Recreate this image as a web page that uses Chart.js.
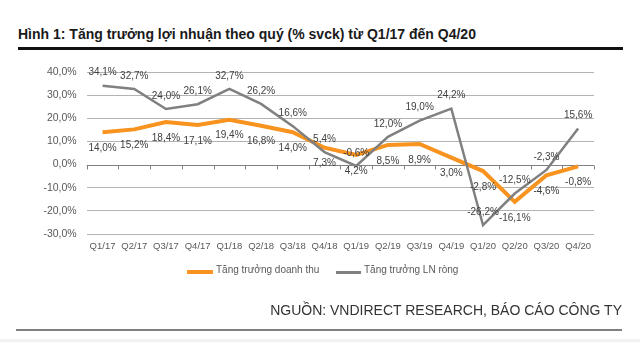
<!DOCTYPE html>
<html>
<head>
<meta charset="utf-8">
<script src="https://cdn.jsdelivr.net/npm/chart.js@4.4.1/dist/chart.umd.min.js"></script>
<style>
  html, body { margin: 0; padding: 0; background: #fff; }
  body { width: 640px; height: 342px; position: relative; overflow: hidden; font-family: "Liberation Sans", Arial, sans-serif; }
  #title { position: absolute; left: 18px; top: 26px; font-size: 14px; font-weight: bold; color: #1a1a1a; white-space: nowrap; }
  #titleRule { position: absolute; left: 18px; top: 47px; width: 605px; height: 3px; background: #111; }
  #chartWrap { position: absolute; left: 0; top: 0; width: 640px; height: 342px; }
  .leg { position: absolute; top: 264px; font-size: 10px; color: #595959; white-space: nowrap; }
  .leg i { position: absolute; top: 6px; display: block; }
  #source { position: absolute; right: 18px; top: 302px; font-size: 14px; color: #333; white-space: nowrap; }
  #srcRule { position: absolute; left: 16px; top: 329px; width: 606px; height: 2px; background: #7f7f7f; }
  #band { position: absolute; left: 0; top: 339px; width: 640px; height: 3px; background: #f2f2f2; }
</style>
</head>
<body>
<div id="title">Hình 1: Tăng trưởng lợi nhuận theo quý (% svck) từ Q1/17 đến Q4/20</div>
<div id="titleRule"></div>
<div id="chartWrap"><canvas id="chart" width="640" height="342"></canvas></div>
<div class="leg" style="left:216px;"><i style="left:-29px;width:26px;height:4px;background:#f7931e;"></i>Tăng trưởng doanh thu</div>
<div class="leg" style="left:364px;"><i style="left:-28px;top:7px;width:25px;height:2.5px;background:#808080;"></i>Tăng trưởng LN ròng</div>
<div id="source">NGUỒN: VNDIRECT RESEARCH, BÁO CÁO CÔNG TY</div>
<div id="srcRule"></div>
<div id="band"></div>
<script>
const quarters = ['Q1/17', 'Q2/17', 'Q3/17', 'Q4/17', 'Q1/18', 'Q2/18', 'Q3/18', 'Q4/18',
                  'Q1/19', 'Q2/19', 'Q3/19', 'Q4/19', 'Q1/20', 'Q2/20', 'Q3/20', 'Q4/20'];
const revenueGrowth = [14.0, 15.2, 18.4, 17.1, 19.4, 16.8, 14.0, 7.3, 4.2, 8.5, 8.9, 3.0, -2.8, -16.1, -4.6, -0.8];
const profitGrowth = [34.1, 32.7, 24.0, 26.1, 32.7, 26.2, 16.6, 5.4, -0.6, 12.0, 19.0, 24.2, -26.2, -12.5, -2.3, 15.6];
const yTicks = [40, 30, 20, 10, 0, -10, -20, -30];

const pct = v => v.toFixed(1).replace('.', ',') + '%';

// nhãn giá trị: doanh thu ở dưới, LN ròng ở trên
const valueLabels = {
  id: 'valueLabels',
  afterDatasetsDraw(chart) {
    const ctx = chart.ctx;
    ctx.save();
    ctx.font = '10px "Liberation Sans", Arial, sans-serif';
    ctx.fillStyle = '#404040';
    ctx.textAlign = 'center';
    ctx.textBaseline = 'middle';
    chart.data.datasets.forEach((ds, di) => {
      const meta = chart.getDatasetMeta(di);
      const dy = ds.labelOffset;
      meta.data.forEach((pt, i) => {
        ctx.fillText(pct(ds.data[i]), pt.x, pt.y + dy);
      });
    });
    ctx.restore();
  }
};

// trục 0 với các vạch chia
const zeroAxis = {
  id: 'zeroAxis',
  beforeDatasetsDraw(chart) {
    const x = chart.scales.x, y = chart.scales.y;
    const y0 = Math.round(y.getPixelForValue(0)) + 0.5;
    const step = (x.right - x.left) / quarters.length;
    const ctx = chart.ctx;
    ctx.save();
    ctx.strokeStyle = '#808080';
    ctx.lineWidth = 1;
    ctx.beginPath();
    ctx.moveTo(x.left, y0); ctx.lineTo(x.right, y0);
    for (let k = 0; k <= quarters.length; k++) {
      const px = Math.round(x.left + k * step) + 0.5;
      ctx.moveTo(px, y0); ctx.lineTo(px, y0 + 4);
    }
    ctx.stroke();
    ctx.restore();
  }
};

new Chart(document.getElementById('chart'), {
  type: 'line',
  data: {
    labels: quarters,
    datasets: [
      { label: 'Tăng trưởng doanh thu', data: revenueGrowth, borderColor: '#f7931e', borderWidth: 4,
        pointRadius: 0, tension: 0, order: 2, labelOffset: 16 },
      { label: 'Tăng trưởng LN ròng', data: profitGrowth, borderColor: '#808080', borderWidth: 2.5,
        pointRadius: 0, tension: 0, order: 1, labelOffset: -13 }
    ]
  },
  options: {
    responsive: false,
    animation: false,
    layout: { padding: { left: 0, top: 72, right: 46, bottom: 88 } },
    plugins: { legend: { display: false }, tooltip: { enabled: false } },
    scales: {
      x: {
        offset: true,
        grid: { display: false, drawTicks: false },
        border: { display: false },
        ticks: { color: '#595959', font: { size: 9.5, family: '"Liberation Sans", Arial, sans-serif' }, padding: 7, maxRotation: 0, autoSkip: false },
        afterFit: s => { s.height = 20; }
      },
      y: {
        min: -30, max: 40,
        afterBuildTicks: s => { s.ticks = yTicks.map(v => ({ value: v })); },
        grid: { color: ctx => ctx.tick && ctx.tick.value === 0 ? 'rgba(0,0,0,0)' : '#b3b3b3', drawTicks: false },
        border: { display: false },
        ticks: { color: '#595959', font: { size: 10.5, family: '"Liberation Sans", Arial, sans-serif' }, padding: 10, callback: v => pct(v) },
        afterFit: s => { s.width = 86.7; }
      }
    }
  },
  plugins: [zeroAxis, valueLabels]
});
</script>
</body>
</html>
